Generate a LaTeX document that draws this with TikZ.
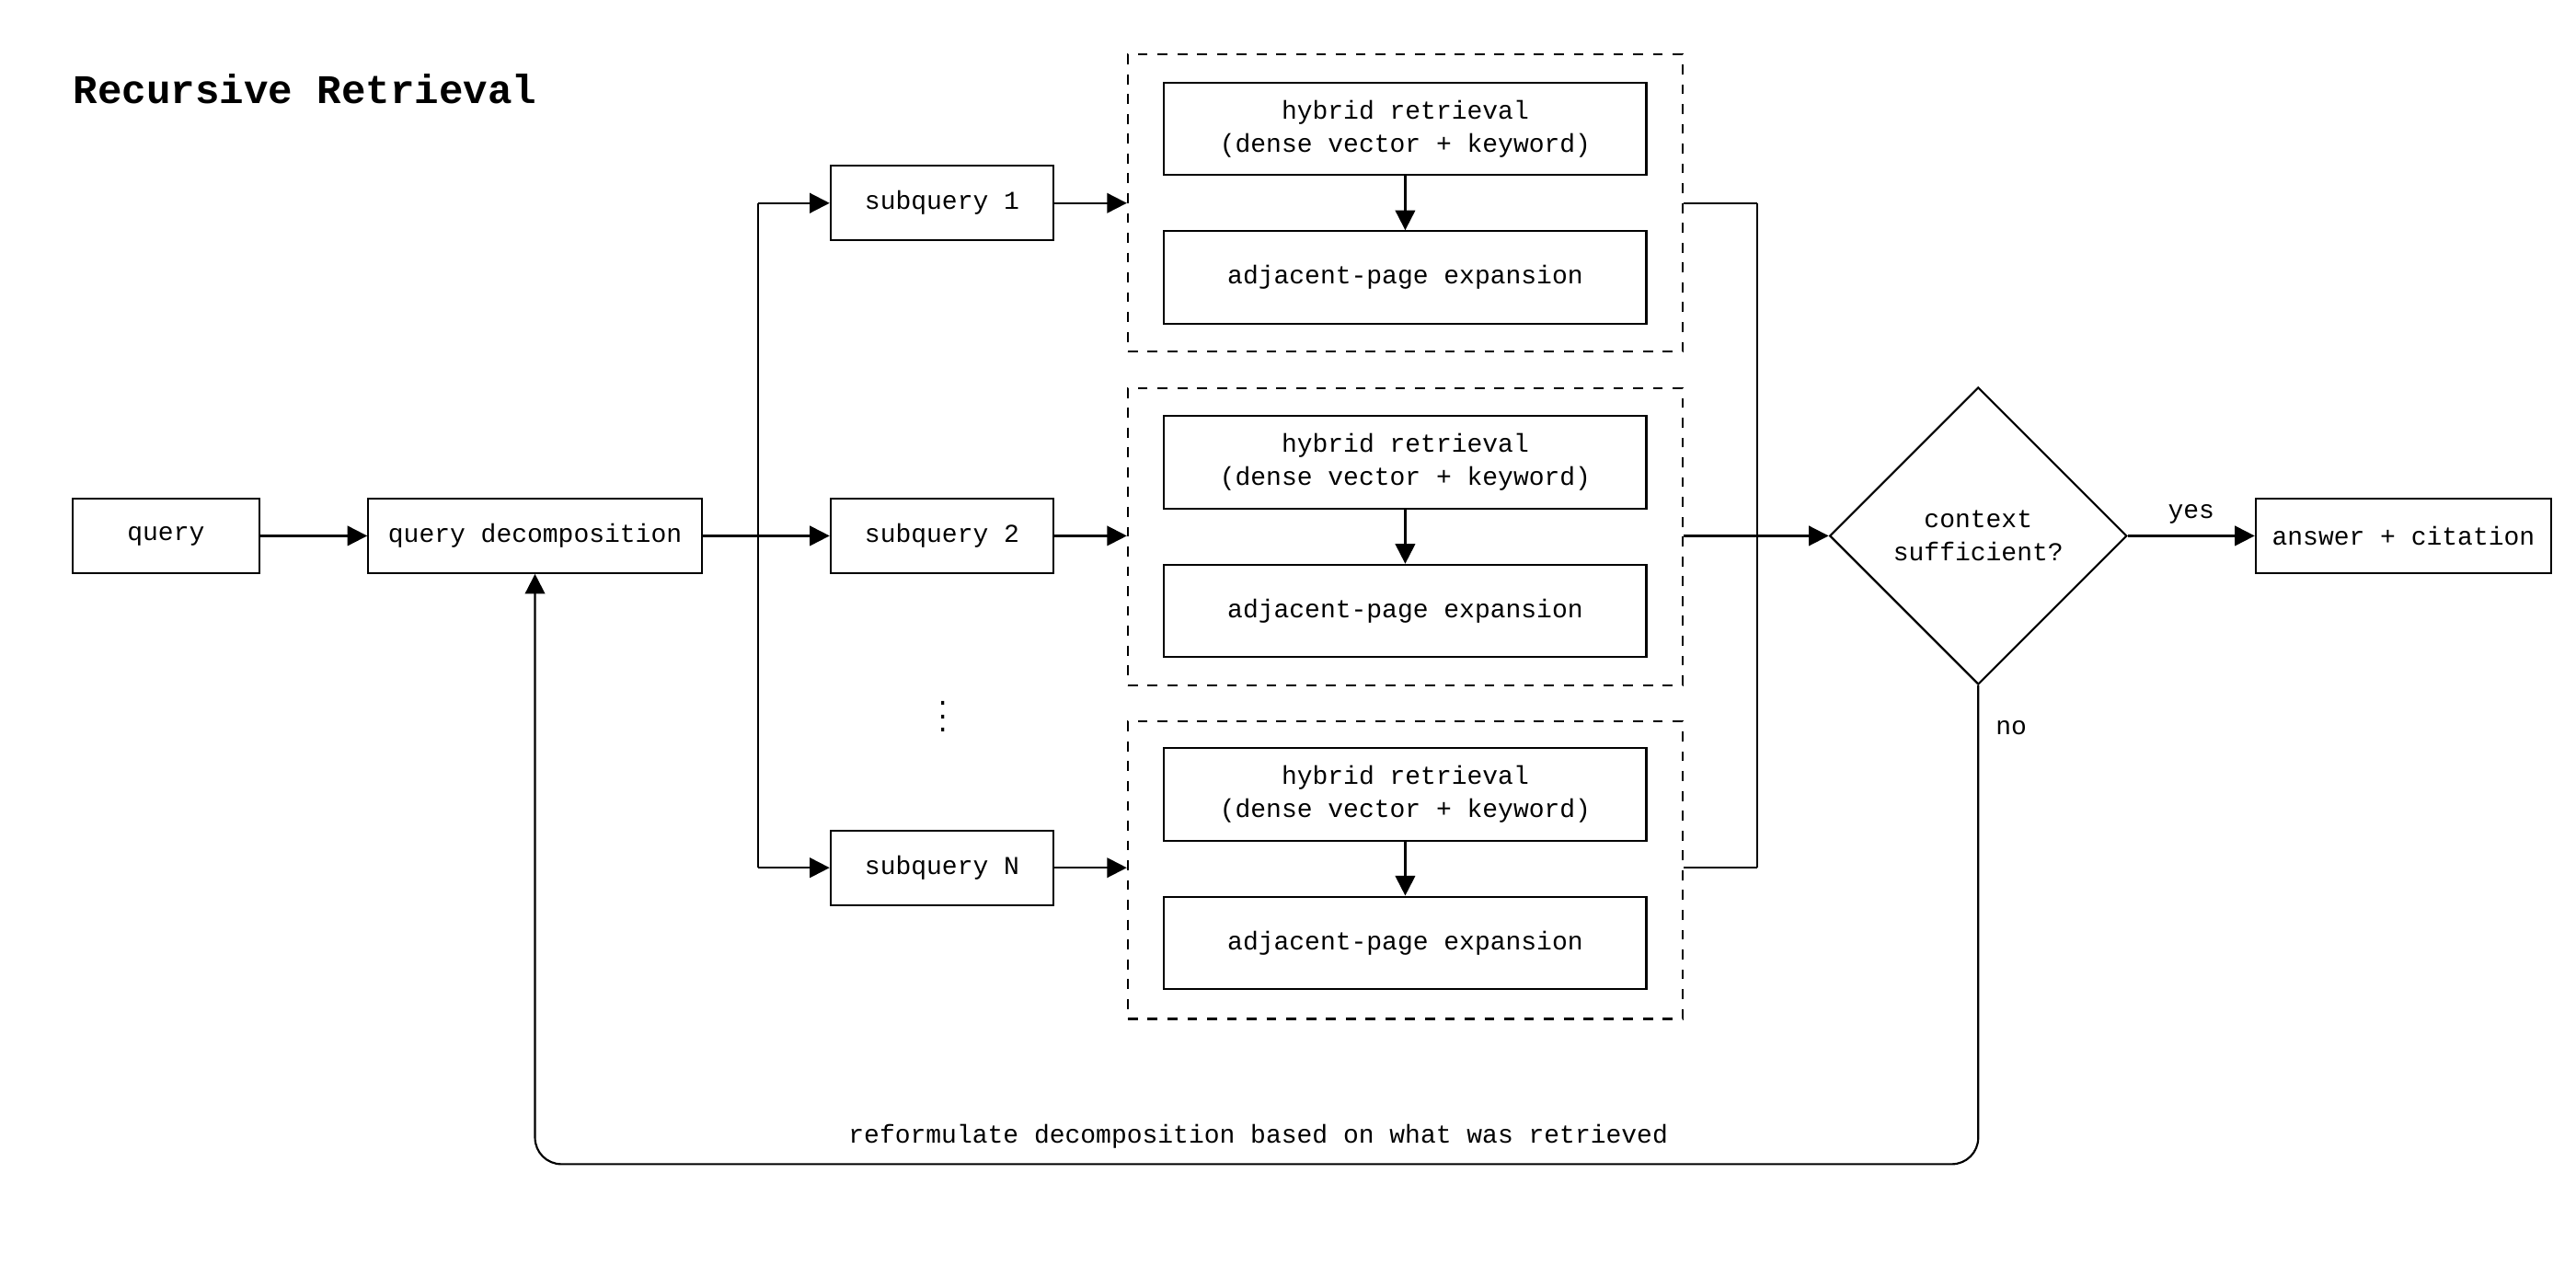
\documentclass[tikz,border=0pt]{standalone}
\usepackage{fontspec}
\setmainfont{Liberation Mono}
\usetikzlibrary{arrows.meta,shapes.geometric}
\begin{document}
\begin{tikzpicture}[x=0.5pt,y=-0.5pt,
  font=\fontsize{7.8pt}{10pt}\selectfont,
  box/.style={draw,line width=0.6pt,inner sep=0pt,align=center},
  grp/.style={draw,dashed,line width=0.6pt,inner sep=0pt},
  arr/.style={line width=0.6pt,-{Triangle[length=6pt,width=6pt]}},
  ln/.style={line width=0.6pt}]
\useasboundingbox (0,0) rectangle (1560,780);
\node[anchor=west,inner sep=0pt,font=\fontsize{12.3pt}{14pt}\selectfont\bfseries] (title) at (44,54) {Recursive Retrieval};
\node[box,minimum width=56.5pt,minimum height=22.5pt] (q) at (100.5,324.5) {query};
\node[box,minimum width=101pt,minimum height=22.5pt] (qd) at (324,324.5) {query decomposition};
\coordinate (br) at (459,324.5);
\foreach \i/\y/\t in {1/123/subquery 1,2/324.5/subquery 2,3/525.5/subquery N}{
  \node[box,minimum width=67.5pt,minimum height=22.5pt] (s\i) at (570.5,\y) {\t};
}
\node[inner sep=0pt] (dots) at (571,428) {$\vdots$};
\foreach \i/\a/\b/\c in {1/33/78/168,2/235/280/370,3/437/481/571}{
  \node[grp,minimum width=168pt,minimum height=90pt] (g\i) at (851,\a+90) {};
  \node[box,minimum width=146pt,minimum height=28pt] (h\i) at (851,\b) {hybrid retrieval\\(dense vector + keyword)};
  \node[box,minimum width=146pt,minimum height=28pt] (e\i) at (851,\c) {adjacent-page expansion};
  \draw[arr] (h\i) -- (e\i);
}
\draw[arr] (q) -- (qd);
\draw[ln] (qd) -- (br);
\draw[ln] (s1.west -| br) -- (s3.west -| br);
\foreach \i in {1,2,3}{
  \draw[arr] (s\i.west -| br) -- (s\i);
  \draw[arr] (s\i) -- (s\i -| g\i.west);
}
\coordinate (mg) at (1064,324.5);
\foreach \i in {1,2,3}{ \draw[ln] (g\i.east |- s\i) -- (s\i -| mg); }
\draw[ln] (s1 -| mg) -- (s3 -| mg);
\node[draw,diamond,line width=0.6pt,minimum width=90pt,minimum height=90pt,inner sep=0pt,align=center,aspect=1] (d) at (1198,324.5) {context\\sufficient?};
\draw[arr] (mg) -- (d);
\node[box,minimum width=89.5pt,minimum height=22.5pt] (ans) at (1455.5,324.5) {answer + citation};
\draw[arr] (d) -- node[above] {yes} (ans);
\draw[arr,rounded corners=8pt] (d.south) -- (1198,705) -- (324,705) -- (qd.south);
\node (no) at (1218,441) {no};
\node (ref) at (762,688) {reformulate decomposition based on what was retrieved};
\end{tikzpicture}
\end{document}
